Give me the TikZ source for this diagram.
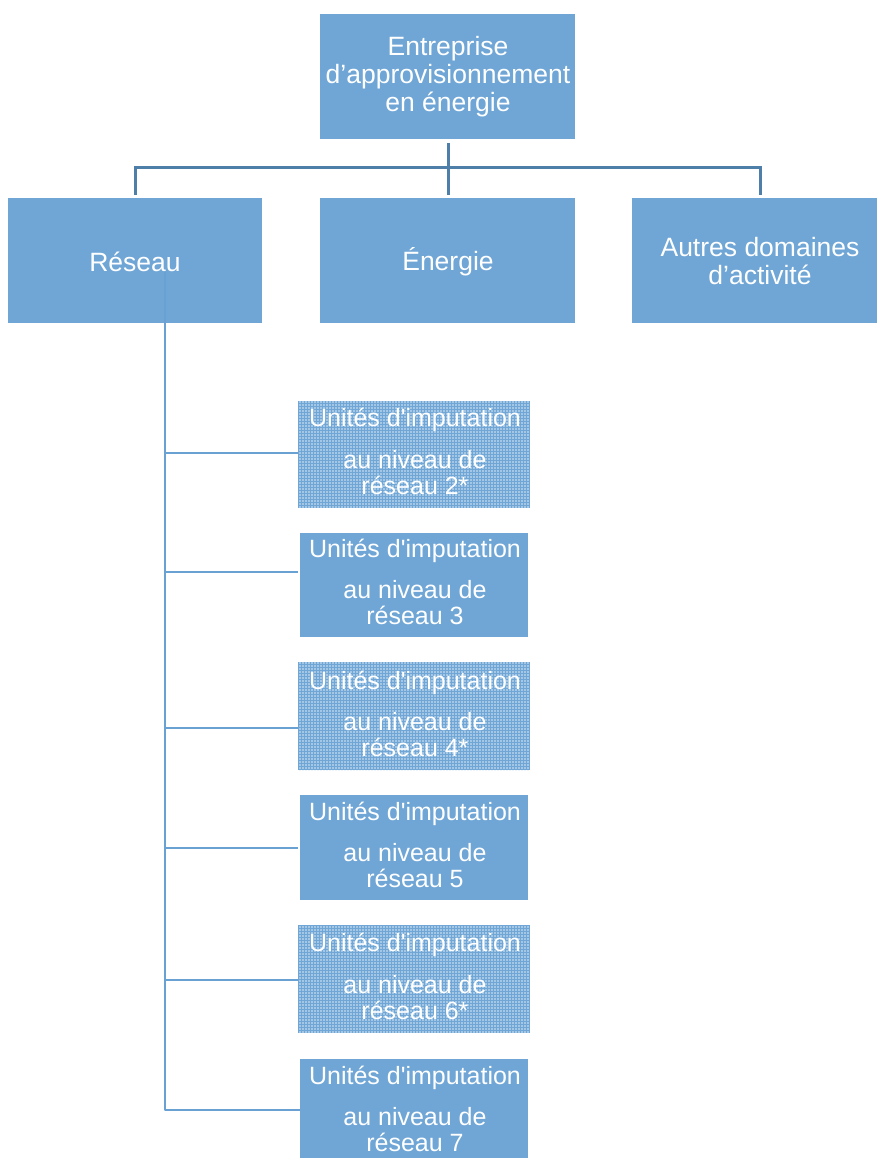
\documentclass[tikz,border=0pt]{standalone}
\usepackage{fontspec}
\setmainfont{Liberation Sans}
\newfontfamily\plainfont{Liberation Sans}
\usetikzlibrary{patterns.meta}
\definecolor{boxblue}{HTML}{6FA6D6}
\definecolor{topline}{HTML}{4E7FA9}
\definecolor{subline}{HTML}{6AA1D3}
\begin{document}
\begin{tikzpicture}[x=1pt,y=-1pt,
  box/.style={fill=boxblue,draw=none,inner sep=0pt},
  lbl/.style={text=white,font=\fontsize{26.5}{28}\selectfont,align=center,inner sep=0pt},
  slbl/.style={text=white,font=\plainfont\fontsize{25}{26}\selectfont,align=center,inner sep=0pt},
  dotbox/.style={pattern={Dots[radius=0.9pt,distance=3pt]},pattern color=white!75!boxblue},
  tline/.style={draw=topline,line width=3pt},
  sline/.style={draw=subline,line width=2.5pt}]
\useasboundingbox (0,0) rectangle (877,1158);
% top level
\path[box] (320,14) rectangle (575,139);
\node[lbl] (top) at (448,77) {Entreprise\\d’approvisionnement\\en énergie};
\coordinate (topb) at (448,143);
% second level
\path[box] (8,198) rectangle (262,323);
\path[box] (320,198) rectangle (575,323);
\path[box] (632,198) rectangle (877,323);
\node[lbl] (res) at (135,262) {Réseau};
\node[lbl] (ene) at (448,262) {Énergie};
\node[lbl] (aut) at (760,261) {Autres domaines\\d’activité};
\coordinate (resT) at (135,195);
\coordinate (eneT) at (448,195);
\coordinate (autT) at (760,195);
\draw[tline] (topb) -- (eneT);
\draw[tline] (resT) -- (135,168) -- (760,168) -- (autT);
% lower boxes
\foreach \n/\t/\b/\d in {2/401/508/1,3/533/637/0,4/662/770/1,5/795/900/0,6/925/1033/1,7/1059/1170/0}{
  \ifnum\d=1
    \path[box] (298,\t) rectangle (530,\b);
    \path[dotbox] (298,\t) rectangle (530,\b);
  \else
    \path[box] (300,\t) rectangle (528,\b);
  \fi
}
\node[slbl] (u2) at (415,420) {Unités d'imputation};
\node[slbl] (n2) at (415,473) {au niveau de\\réseau 2*};
\node[slbl] (u3) at (415,551) {Unités d'imputation};
\node[slbl] (n3) at (415,603) {au niveau de\\réseau 3};
\node[slbl] (u4) at (415,683) {Unités d'imputation};
\node[slbl] (n4) at (415,735) {au niveau de\\réseau 4*};
\node[slbl] (u5) at (415,814) {Unités d'imputation};
\node[slbl] (n5) at (415,866) {au niveau de\\réseau 5};
\node[slbl] (u6) at (415,945) {Unités d'imputation};
\node[slbl] (n6) at (415,998) {au niveau de\\réseau 6*};
\node[slbl] (u7) at (415,1078) {Unités d'imputation};
\node[slbl] (n7) at (415,1130) {au niveau de\\réseau 7};
% tree lines
\coordinate (vs) at (165,272);
\draw[sline,line join=round] (vs) -- (165,1110) -- (300,1110);
\foreach \y in {453,572,728,848,980}{
  \draw[sline] (165,\y) -- (298,\y);
}
\end{tikzpicture}
\end{document}
